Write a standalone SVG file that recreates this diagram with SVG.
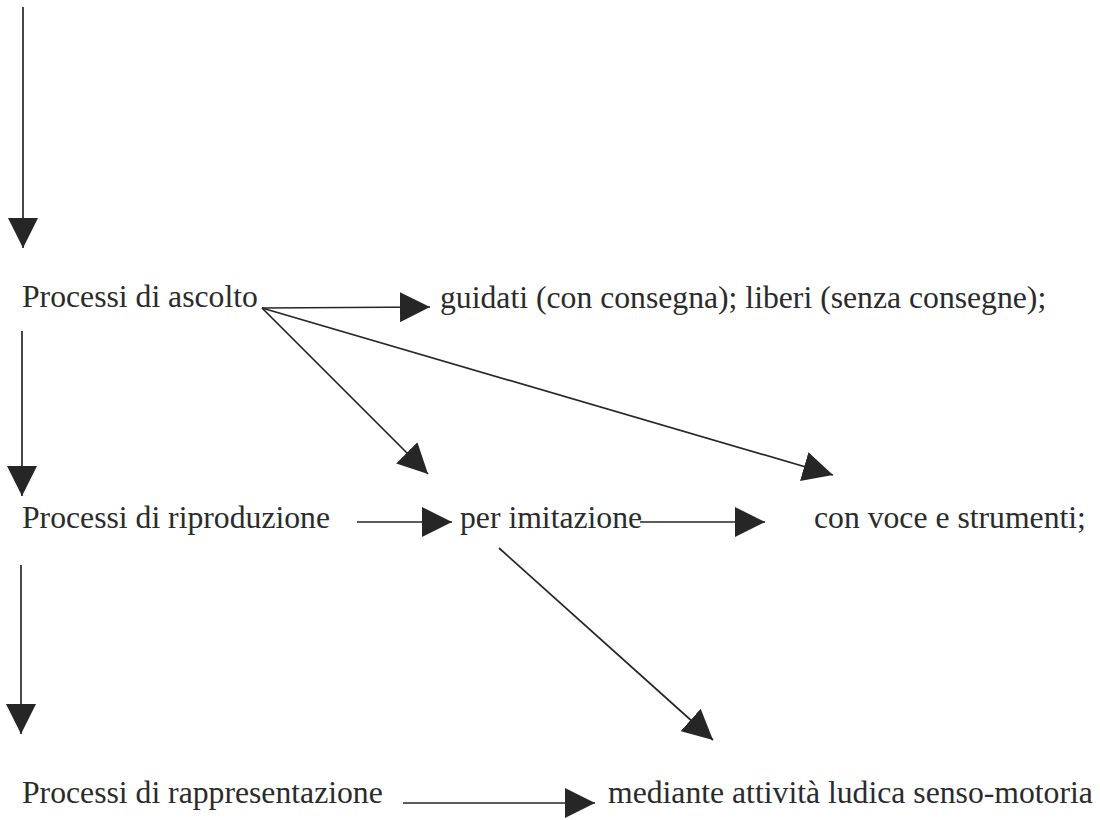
<svg xmlns="http://www.w3.org/2000/svg" width="1100" height="820" viewBox="0 0 1100 820">
<style>
  .t { font-family: "Liberation Serif", "Times New Roman", serif; font-size: 31.7px; fill: #2b2b2b; }
  .c { stroke: #262626; stroke-width: 1.7; fill: none; marker-end: url(#ah); }
</style>
<defs>
  <marker id="ah" markerUnits="userSpaceOnUse" markerWidth="30" markerHeight="30" refX="28" refY="14" orient="auto" viewBox="0 0 28 28">
    <path d="M0,0 L28,14 L0,28 z" fill="#262626"/>
  </marker>
</defs>
<rect width="1100" height="820" fill="#ffffff"/>
<g id="connectors">
  <line class="c" x1="23" y1="7" x2="23" y2="248"/>
  <line class="c" x1="22" y1="331" x2="22" y2="496"/>
  <line class="c" x1="21" y1="565" x2="21" y2="734"/>
  <line class="c" x1="262" y1="308" x2="430" y2="307"/>
  <line class="c" x1="262" y1="308" x2="428" y2="474"/>
  <line class="c" x1="262" y1="308" x2="833" y2="475"/>
  <line class="c" x1="357" y1="522" x2="452" y2="522"/>
  <line class="c" x1="640" y1="522" x2="765" y2="522"/>
  <line class="c" x1="499" y1="548" x2="713" y2="740"/>
  <line class="c" x1="403" y1="803" x2="595" y2="803"/>
</g>
<g id="ascolto"><text class="t" x="22" y="307">Processi di ascolto</text></g>
<g id="guidati"><text class="t" x="440" y="308">guidati (con consegna); liberi (senza consegne);</text></g>
<g id="riproduzione"><text class="t" x="22" y="528">Processi di riproduzione</text></g>
<g id="imitazione"><text class="t" x="460" y="528">per imitazione</text></g>
<g id="voce"><text class="t" x="814" y="528">con voce e strumenti;</text></g>
<g id="rappresentazione"><text class="t" x="22" y="803">Processi di rappresentazione</text></g>
<g id="mediante"><text class="t" x="608" y="803">mediante attività ludica senso-motoria</text></g>
</svg>
